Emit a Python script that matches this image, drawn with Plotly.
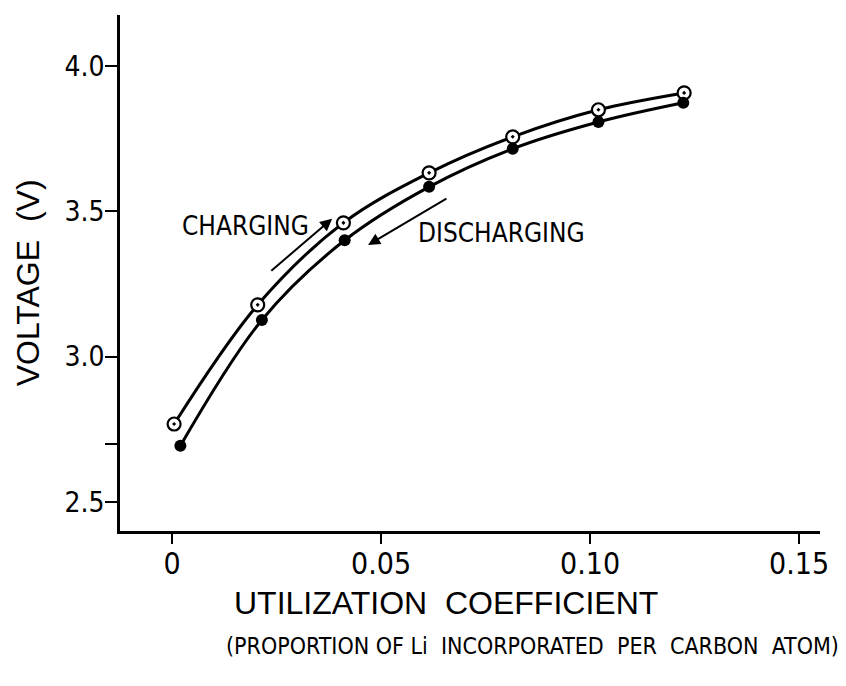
import plotly.graph_objects as go

# Data
charge_x = [0.0005, 0.0205, 0.041, 0.0615, 0.0815, 0.102, 0.1225]
charge_v = [2.768, 3.178, 3.46, 3.632, 3.756, 3.849, 3.907]
discharge_x = [0.002, 0.0215, 0.0413, 0.0615, 0.0815, 0.102, 0.1223]
discharge_v = [2.693, 3.126, 3.40, 3.584, 3.715, 3.807, 3.873]

x_tickvals = [0, 0.05, 0.10, 0.15]
x_ticktext = ["0", "0.05", "0.10", "0.15"]
y_tickvals = [2.5, 2.7, 3.0, 3.5, 4.0]
y_ticktext = ["2.5", "", "3.0", "3.5", "4.0"]

# arrow tail/head (data units)
charge_arrow = [(0.0234, 3.291), (0.0383, 3.474)]
discharge_arrow = [(0.0660, 3.546), (0.0469, 3.384)]
charge_label = (0.0175, 3.45)
discharge_label = (0.0789, 3.4255)

FONT = "DejaVu Sans Condensed, Liberation Sans Narrow, sans-serif"
FONT2 = "Liberation Sans, Arial, sans-serif"

fig = go.Figure()
fig.add_trace(go.Scatter(
    x=charge_x, y=charge_v, mode="lines+markers",
    line=dict(color="black", width=3, shape="spline", smoothing=1.0),
    marker=dict(symbol="circle-dot", size=13, color="white",
                line=dict(color="black", width=2.2)),
    showlegend=False))
fig.add_trace(go.Scatter(
    x=discharge_x, y=discharge_v, mode="lines+markers",
    line=dict(color="black", width=3, shape="spline", smoothing=1.0),
    marker=dict(symbol="circle", size=12, color="black"),
    showlegend=False))

ann = []
for (tx, ty), (hx, hy) in [charge_arrow, discharge_arrow]:
    ann.append(dict(x=hx, y=hy, ax=tx, ay=ty, xref="x", yref="y",
                    axref="x", ayref="y", text="", showarrow=True,
                    arrowhead=2, arrowsize=1.2, arrowwidth=2, arrowcolor="black"))
ann.append(dict(x=charge_label[0], y=charge_label[1], xref="x", yref="y",
                text="CHARGING", showarrow=False,
                xanchor="center", yanchor="middle",
                font=dict(family=FONT, size=26, color="black")))
ann.append(dict(x=discharge_label[0], y=discharge_label[1], xref="x", yref="y",
                text="DISCHARGING", showarrow=False,
                xanchor="center", yanchor="middle",
                font=dict(family=FONT, size=26, color="black")))
ann.append(dict(x=-0.131, y=0.4806, xref="paper", yref="paper",
                text="VOLTAGE  (V)", textangle=-90, showarrow=False,
                xanchor="center", yanchor="middle",
                font=dict(family=FONT2, size=32, color="black")))
ann.append(dict(x=0.4657, y=-0.1395, xref="paper", yref="paper",
                text="UTILIZATION  COEFFICIENT", showarrow=False,
                xanchor="center", yanchor="middle",
                font=dict(family=FONT2, size=32, color="black")))
ann.append(dict(x=0.5886, y=-0.2229, xref="paper", yref="paper",
                text="(PROPORTION OF Li  INCORPORATED  PER  CARBON  ATOM)",
                showarrow=False, xanchor="center", yanchor="middle",
                font=dict(family=FONT, size=23, color="black")))

fig.update_layout(
    width=846, height=686,
    margin=dict(l=120, r=26, t=15, b=155),
    paper_bgcolor="white", plot_bgcolor="white",
    annotations=ann,
    xaxis=dict(range=[-0.01244, 0.155], tickvals=x_tickvals, ticktext=x_ticktext,
               showline=True, linecolor="black", linewidth=2.5,
               ticks="outside", ticklen=10, tickwidth=2, tickcolor="black",
               showgrid=False, zeroline=False, ticklabelstandoff=-6,
               tickfont=dict(family=FONT, size=30, color="black")),
    yaxis=dict(range=[2.40, 4.175], tickvals=y_tickvals, ticktext=y_ticktext,
               showline=True, linecolor="black", linewidth=2.5,
               ticks="outside", ticklen=12, tickwidth=2, tickcolor="black",
               showgrid=False, zeroline=False, ticklabelstandoff=-5,
               tickfont=dict(family=FONT, size=28, color="black")),
)

fig.write_html("out.html")
